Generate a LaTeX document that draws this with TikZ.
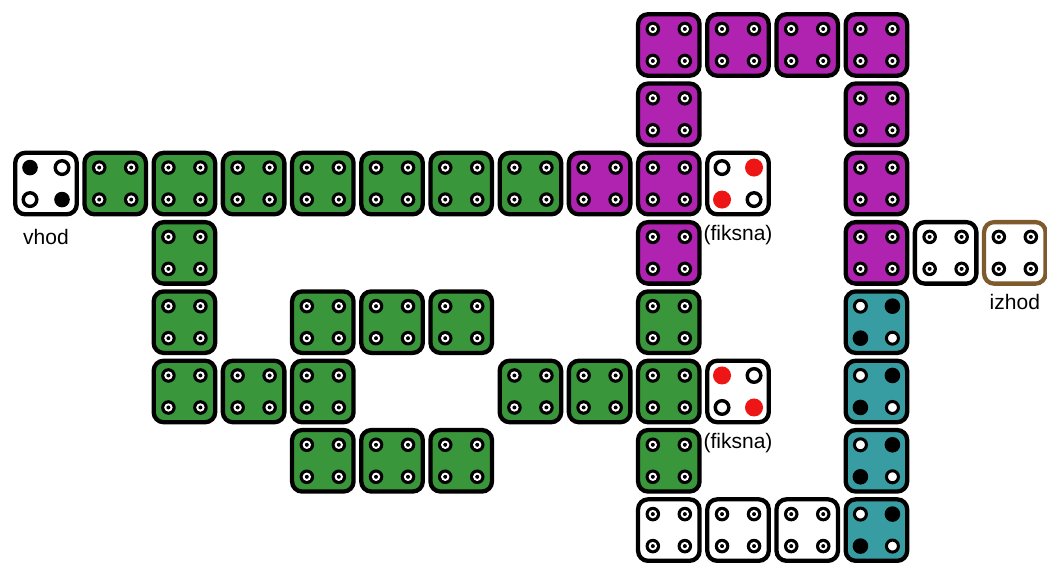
\documentclass[tikz,border=0pt]{standalone}
\usepackage{fontspec}
\setmainfont{Liberation Sans}
\usetikzlibrary{positioning}
\definecolor{qcagreen}{HTML}{3A963A}
\definecolor{qcaviolet}{HTML}{B022B0}
\definecolor{qcateal}{HTML}{389CA3}
\definecolor{qcabrown}{HTML}{7E5A2C}
\definecolor{qcared}{HTML}{EE1515}
\newcommand\dotn[1]{\fill (#1) circle (7.3pt); \fill[white] (#1) circle (4.2pt); \fill (#1) circle (2pt);}
\newcommand\dotb[1]{\fill (#1) circle (7.8pt);}
\newcommand\dotw[1]{\filldraw[fill=white,line width=3pt] (#1) circle (6pt);}
\newcommand\doto[1]{\filldraw[fill=white,line width=3.4pt] (#1) circle (6.8pt);}
\newcommand\dotr[1]{\fill[qcared] (#1) circle (9pt);}
\newcommand\celldots[5]{#2{[shift={(-16pt,16pt)}]#1.center}#3{[shift={(16pt,16pt)}]#1.center}#4{[shift={(-16pt,-16pt)}]#1.center}#5{[shift={(16pt,-16pt)}]#1.center}}

\begin{document}
\begin{tikzpicture}[
  x=69.2pt,y=-69.3pt,
  cell/.style={draw=black,line width=4.3pt,rounded corners=10pt,minimum size=61.5pt,inner sep=0pt},
  lbl/.style={font=\fontsize{21}{25}\selectfont,inner sep=0pt}
]
\useasboundingbox (-0.665,-0.649) rectangle (14.465,7.518);
\foreach \c/\r in {1/2,2/2,3/2,4/2,5/2,6/2,7/2,2/3,2/4,2/5,3/5,4/5,4/4,5/4,6/4,4/6,5/6,6/6,7/5,8/5,9/5,9/4,9/6} {
  \node[cell,fill=qcagreen] (c\c-\r) at (\c,\r) {};
  \celldots{c\c-\r}{\dotn}{\dotn}{\dotn}{\dotn}
}
\foreach \c/\r in {9/0,10/0,11/0,12/0,9/1,12/1,8/2,9/2,12/2,9/3,12/3} {
  \node[cell,fill=qcaviolet] (c\c-\r) at (\c,\r) {};
  \celldots{c\c-\r}{\dotn}{\dotn}{\dotn}{\dotn}
}
\foreach \c/\r in {13/3,9/7,10/7,11/7} {
  \node[cell,fill=white] (c\c-\r) at (\c,\r) {};
  \celldots{c\c-\r}{\dotn}{\dotn}{\dotn}{\dotn}
}
\foreach \r in {4,5,6,7} {
  \node[cell,fill=qcateal] (c12-\r) at (12,\r) {};
  \celldots{c12-\r}{\dotw}{\dotb}{\dotb}{\dotw}
}
\node[cell,draw=qcabrown,fill=white] (izhod) at (14,3) {};
\celldots{izhod}{\dotn}{\dotn}{\dotn}{\dotn}
\node[cell,fill=white] (vhod) at (0,2) {};
\celldots{vhod}{\dotb}{\doto}{\doto}{\dotb}
\node[cell,fill=white] (fix1) at (10,2) {};
\celldots{fix1}{\doto}{\dotr}{\dotr}{\doto}
\node[cell,fill=white] (fix2) at (10,5) {};
\celldots{fix2}{\dotr}{\doto}{\doto}{\dotr}

\node[lbl,below=13pt of vhod] (vhodlbl) {vhod};
\node[lbl,below=9pt of fix1] (fix1lbl) {(fiksna)};
\node[lbl,below=9pt of fix2] (fix2lbl) {(fiksna)};
\node[lbl,below=8pt of izhod] (izhodlbl) {izhod};
\end{tikzpicture}
\end{document}
